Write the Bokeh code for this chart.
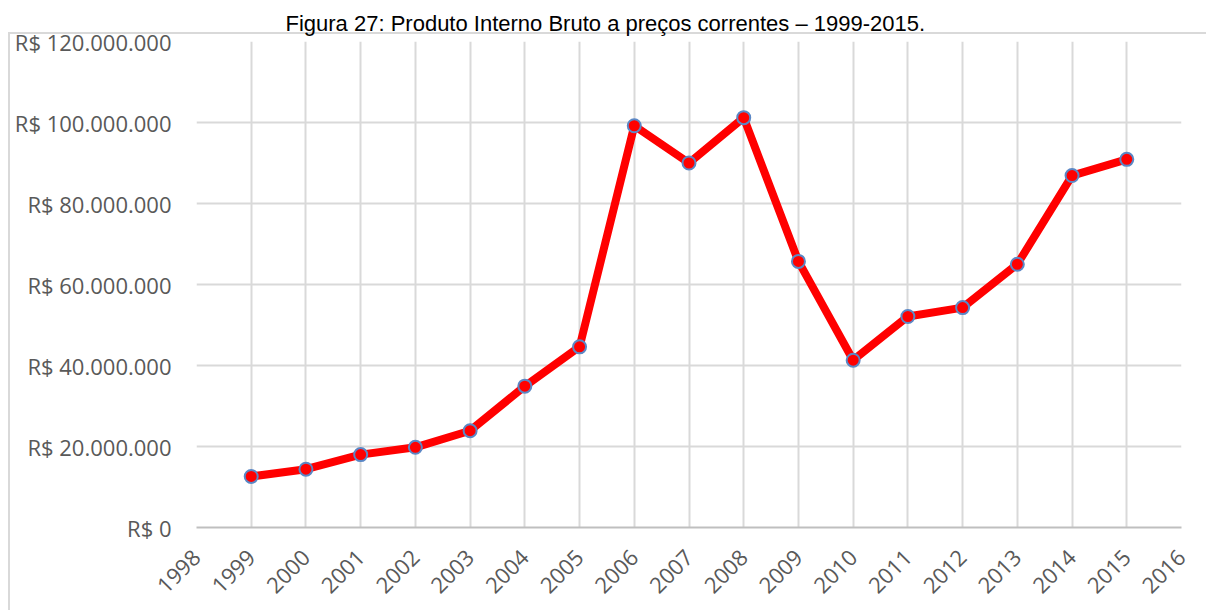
import math
from bokeh.plotting import figure
from bokeh.models import FixedTicker, ColumnDataSource
from bokeh.embed import file_html
from bokeh.resources import INLINE

years = [1999, 2000, 2001, 2002, 2003, 2004, 2005, 2006, 2007, 2008,
         2009, 2010, 2011, 2012, 2013, 2014, 2015]
pib = [12.6e6, 14.4e6, 18.0e6, 19.8e6, 23.9e6, 34.9e6, 44.6e6, 99.2e6, 90.0e6,
       101.2e6, 65.7e6, 41.3e6, 52.1e6, 54.3e6, 65.0e6, 86.9e6, 90.9e6]
x_ticks = list(range(1998, 2017))
y_ticks = [0, 20e6, 40e6, 60e6, 80e6, 100e6, 120e6]
title_text = "Figura 27: Produto Interno Bruto a preços correntes – 1999-2015."


def brl(v):
    v = int(round(v))
    if v == 0:
        return "R$ 0"
    return "R$ " + f"{v:,}".replace(",", ".")


y_labels = {t: brl(t) for t in y_ticks}

p = figure(width=1206, height=610, frame_width=985, frame_height=486,
           output_backend="svg", toolbar_location=None,
           x_range=(1998, 2016), y_range=(0, 120e6),
           min_border_left=196, min_border_right=25,
           min_border_top=41, min_border_bottom=83,
           styles={"background-color": "white",
                   "background-image": "linear-gradient(#d9d9d9, #d9d9d9), "
                                       "linear-gradient(#d9d9d9, #d9d9d9)",
                   "background-size": "100% 2px, 2px 100%",
                   "background-position": "8px 32px, 8px 32px",
                   "background-repeat": "no-repeat"})
p.background_fill_color = "white"
p.border_fill_alpha = 0
p.outline_line_color = None

p.title.text = title_text
p.title.text_font = "Liberation Sans"
p.title.text_font_size = "22px"
p.title.text_font_style = "normal"
p.title.text_color = "#000000"
p.title.align = "left"
p.title.offset = 89
p.title.standoff = 12

src = ColumnDataSource(dict(x=years, y=pib))
p.line("x", "y", source=src, line_color="#ff0000", line_width=8, line_join="round")
p.scatter("x", "y", source=src, size=13, fill_color="#ff0000",
          line_color="#5b87c5", line_width=2)

xa = p.xaxis[0]
xa.ticker = FixedTicker(ticks=x_ticks)
xa.major_label_orientation = math.pi / 4
xa.major_label_text_font = "Open Sans"
xa.major_label_text_font_size = "22px"
xa.major_label_text_color = "#595959"
xa.major_label_standoff = 20
xa.axis_line_color = "#bfbfbf"
xa.axis_line_width = 2
xa.major_tick_line_color = None
xa.minor_tick_line_color = None

ya = p.yaxis[0]
ya.ticker = FixedTicker(ticks=y_ticks)
ya.major_label_overrides = y_labels
ya.major_label_text_font = "Open Sans"
ya.major_label_text_font_size = "22px"
ya.major_label_text_color = "#595959"
ya.major_label_standoff = 19
ya.axis_line_color = None
ya.major_tick_line_color = None
ya.minor_tick_line_color = None

p.xgrid.ticker = FixedTicker(ticks=x_ticks)
p.ygrid.ticker = FixedTicker(ticks=y_ticks)
for g in (p.xgrid[0], p.ygrid[0]):
    g.grid_line_color = "#d9d9d9"
    g.grid_line_width = 2

open("out.html", "w").write(file_html(p, INLINE))
